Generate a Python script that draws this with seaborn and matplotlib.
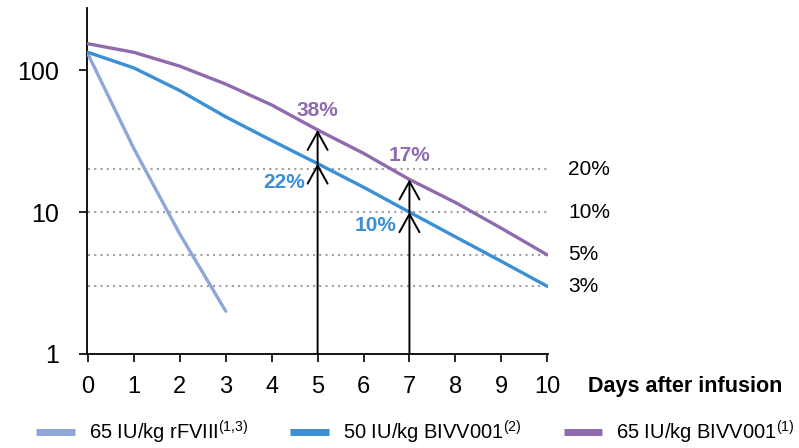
import numpy as np
import pandas as pd
import matplotlib
matplotlib.use("Agg")
import matplotlib.pyplot as plt
import seaborn as sns

# --- Data ---
DAYS = [0, 1, 2, 3, 4, 5, 6, 7, 8, 9, 10]
RFVIII_DAYS = [0, 1, 2, 3]
RFVIII_65 = [130, 28, 7, 2]
BIVV_50 = [134, 104, 72, 47, 32, 22, 15, 10, 6.7, 4.5, 3]
BIVV_65 = [154, 134, 107, 80, 57, 38, 26, 17, 11.7, 7.7, 5]

SERIES = [r"65 IU/kg rFVIII$^{(1{,}3)}$",
          r"50 IU/kg BIVV001$^{(2)}$",
          r"65 IU/kg BIVV001$^{(1)}$"]
COLORS = ["#8EA6D8", "#3A8FD6", "#8F6AAF"]

REF_LEVELS = [20, 10, 5, 3]
REF_LABELS = ["20%", "10%", "5%", "3%"]

# arrows at day 5 and day 7: lower value (50 IU/kg), upper value (65 IU/kg)
ARROW_DAYS = [5, 7]
ARROW_LOW = [22, 10]
ARROW_HIGH = [38, 17]

rows = []
for d, v in zip(RFVIII_DAYS, RFVIII_65):
    rows.append({"Day": d, "Level": v, "Series": SERIES[0]})
for d, v in zip(DAYS, BIVV_50):
    rows.append({"Day": d, "Level": v, "Series": SERIES[1]})
for d, v in zip(DAYS, BIVV_65):
    rows.append({"Day": d, "Level": v, "Series": SERIES[2]})
df = pd.DataFrame(rows)

sns.set_style("ticks")
plt.rcParams["font.family"] = ["Liberation Sans", "DejaVu Sans"]
plt.rcParams["mathtext.fontset"] = "custom"
plt.rcParams["mathtext.rm"] = "Liberation Sans"
for k in ["text.color", "axes.labelcolor", "xtick.color", "ytick.color"]:
    plt.rcParams[k] = "black"

fig = plt.figure(figsize=(7.99, 4.48), dpi=100)
ax = fig.add_axes([0.109, 0.21, 0.577, 0.772])

# reference dotted lines
for lvl, lab in zip(REF_LEVELS, REF_LABELS):
    ax.plot([0, 10], [lvl, lvl], color="#A0A0A0", lw=1.5, ls=(0, (1, 2)), zorder=1)
    ax.text(10.46, lvl, lab, fontsize=15, va="center", ha="left")

sns.lineplot(data=df, x="Day", y="Level", hue="Series", palette=COLORS,
             linewidth=2.4, ax=ax, zorder=3)

# arrows
style = "->,head_length=0.65,head_width=0.36"
for d, lo, hi in zip(ARROW_DAYS, ARROW_LOW, ARROW_HIGH):
    ax.annotate("", xy=(d, lo), xytext=(d, 1),
                arrowprops=dict(arrowstyle=style, color="black", lw=1.4,
                                shrinkA=0, shrinkB=0, mutation_scale=20), zorder=4)
    ax.annotate("", xy=(d, hi), xytext=(d, lo),
                arrowprops=dict(arrowstyle=style, color="black", lw=1.4,
                                shrinkA=0, shrinkB=0, mutation_scale=20), zorder=4)

ax.text(5.0, 52, "38%", color=COLORS[2], fontsize=15, fontweight="bold", ha="center", va="center")
ax.text(4.73, 16.3, "22%", color=COLORS[1], fontsize=15, fontweight="bold", ha="right", va="center")
ax.text(7.0, 25, "17%", color=COLORS[2], fontsize=15, fontweight="bold", ha="center", va="center")
ax.text(6.72, 8.1, "10%", color=COLORS[1], fontsize=15, fontweight="bold", ha="right", va="center")

ax.set_yscale("log")
ax.set_ylim(1, 275)
ax.set_xticks(DAYS)
ax.set_yticks([1, 10, 100])
ax.set_yticklabels(["1", "10", "100"])
ax.minorticks_off()
ax.tick_params(axis="y", labelsize=18, length=6, width=1.2, pad=14)
ax.tick_params(axis="x", labelsize=17, length=6, width=1.2, pad=10, direction="out")
ax.set_xlabel("")
ax.set_ylabel("")
for s in ["left", "bottom"]:
    ax.spines[s].set_linewidth(1.3)
    ax.spines[s].set_color("black")
sns.despine(ax=ax)
ax.set_xlim(-0.02, 10.02)

fig.text(0.736, 0.138, "Days after infusion", fontsize=15.5, fontweight="bold", ha="left", va="center")

sns.move_legend(ax, "center", bbox_to_anchor=(0.52, 0.035), bbox_transform=fig.transFigure,
                ncol=3, frameon=False, title=None, fontsize=14.5, handlelength=1.9,
                columnspacing=2.1, handletextpad=0.7, borderpad=0, borderaxespad=0)
for line in ax.get_legend().get_lines():
    line.set_linewidth(5)
    line.set_solid_capstyle("butt")

fig.savefig("out.png", dpi=100)
